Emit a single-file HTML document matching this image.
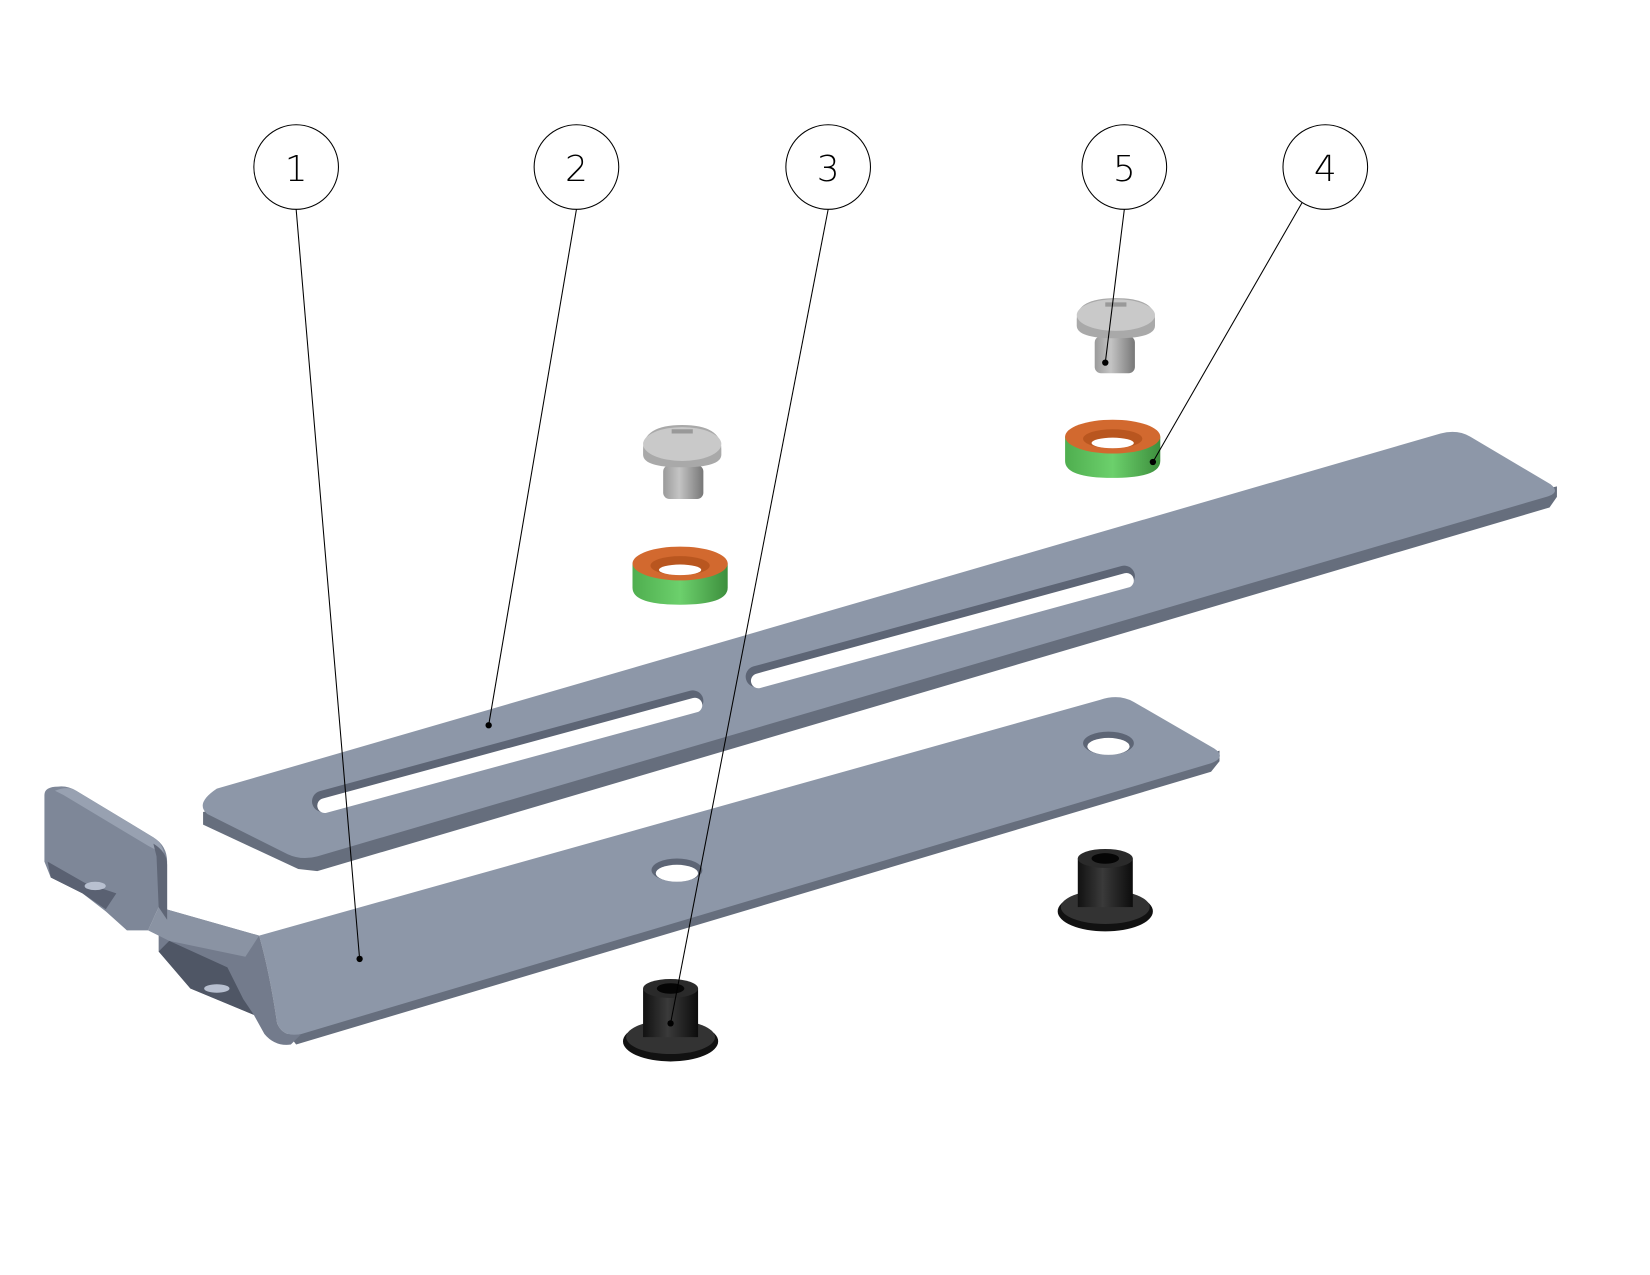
<!DOCTYPE html>
<html><head><style>html,body{margin:0;padding:0;background:#fff}svg{display:block}</style></head>
<body>
<svg width="1650" height="1275" viewBox="0 0 1560 1206" preserveAspectRatio="none" xmlns="http://www.w3.org/2000/svg">
<defs>
<linearGradient id="scr" x1="0" x2="1"><stop offset="0" stop-color="#9a9a9a"/><stop offset=".4" stop-color="#c4c4c4"/><stop offset="1" stop-color="#777"/></linearGradient>
<linearGradient id="grn" x1="0" x2="1"><stop offset="0" stop-color="#4fae4f"/><stop offset=".5" stop-color="#6cd06c"/><stop offset="1" stop-color="#3d8f3d"/></linearGradient>
<linearGradient id="blk" x1="0" x2="1"><stop offset="0" stop-color="#111"/><stop offset=".45" stop-color="#3a3a3a"/><stop offset="1" stop-color="#0c0c0c"/></linearGradient>
</defs>

<!-- Upper plate (2) -->
<path d="M192,768 L192,780 L282,822 L300,824 L1465,480 L1472,470 L1472,460 Z" fill="#666e7d"/>
<path d="M205,746 L1362,410 Q1378,406 1390,413 L1466,458 Q1476,466 1462,470 L300,810 Q285,814 272,808 L196,770 Q184,760 205,746 Z" fill="#8d97a8"/>
<!-- slots -->
<g stroke-linecap="round">
<line x1="305" y1="758" x2="655" y2="663" stroke="#5d6575" stroke-width="20"/>
<line x1="307" y1="762" x2="657" y2="667" stroke="#fff" stroke-width="14"/>
<line x1="715" y1="640" x2="1063" y2="545" stroke="#5d6575" stroke-width="20"/>
<line x1="717" y1="644" x2="1065" y2="549" stroke="#fff" stroke-width="14"/>
</g>

<!-- Lower plate (1) -->
<path d="M270,975 L280,988 L1145,730 L1153,720 L1153,710 L285,975 Z" fill="#666e7d"/>
<path d="M245,885 L1040,662 Q1058,656 1072,664 L1148,708 Q1160,716 1145,722 L285,978 Q268,982 262,968 Q255,920 245,885 Z" fill="#8d97a8"/>
<!-- bend and tab -->
<path d="M150,858 L245,885 Q255,920 262,968 Q268,982 285,978 L275,988 Q260,990 250,978 L240,960 L180,935 L150,900 Z" fill="#737b8c"/>
<path d="M140,880 L150,858 L245,885 L232,905 L160,890 Z" fill="#8a93a3"/>
<path d="M150,900 L180,935 L240,960 L230,945 L215,915 L160,890 Z" fill="#4f5665"/>
<path d="M42,752 Q42,744 55,744 Q64,743 72,748 L145,792 Q158,800 158,815 L158,870 L150,858 L140,880 L120,880 L100,862 L78,845 L48,830 L42,815 Z" fill="#7e8798"/>
<path d="M52,748 Q64,743 72,748 L145,792 Q154,798 155,808 L140,800 L60,752 Z" fill="#98a1b1"/>
<path d="M145,798 Q158,806 158,818 L158,870 L150,858 L148,810 Z" fill="#5f6676"/>
<path d="M45,815 L48,830 L78,845 L100,860 L110,845 L80,835 Z" fill="#5a6172"/>
<ellipse cx="90" cy="838" rx="10" ry="4" fill="#b8c0d0"/>
<ellipse cx="205" cy="935" rx="12" ry="4" fill="#b8c0d0"/>
<!-- holes -->
<ellipse cx="1048" cy="703" rx="24" ry="11" fill="#5d6575"/><ellipse cx="1048" cy="706" rx="20" ry="8" fill="#fff"/>
<ellipse cx="640" cy="823" rx="24" ry="11" fill="#5d6575"/><ellipse cx="640" cy="826" rx="20" ry="8" fill="#fff"/>

<!-- Screws -->
<g>
<rect x="627" y="440" width="38" height="32" rx="6" fill="url(#scr)"/>
<path d="M608,425 Q608,402 645,402 Q682,402 682,425 L682,430 Q682,442 645,442 Q608,442 608,430 Z" fill="#a9a9a9"/>
<ellipse cx="645" cy="420" rx="37" ry="16" fill="#c9c9c9"/>
<path d="M635,408 L655,408" stroke="#999" stroke-width="4"/>
</g>
<g>
<rect x="1035" y="318" width="38" height="35" rx="6" fill="url(#scr)"/>
<path d="M1018,302 Q1018,282 1055,282 Q1092,282 1092,302 L1092,308 Q1092,320 1055,320 Q1018,320 1018,308 Z" fill="#a9a9a9"/>
<ellipse cx="1055" cy="298" rx="37" ry="15" fill="#c9c9c9"/>
<path d="M1045,288 L1065,288" stroke="#999" stroke-width="4"/>
</g>

<!-- Washers -->
<g>
<path d="M598,533 L598,556 Q598,572 643,572 Q688,572 688,556 L688,533 Z" fill="url(#grn)"/>
<ellipse cx="643" cy="533" rx="45" ry="16" fill="#d2692f"/>
<ellipse cx="643" cy="535" rx="28" ry="9" fill="#b9561f"/>
<ellipse cx="643" cy="539" rx="20" ry="5" fill="#fff"/>
</g>
<g>
<path d="M1007,413 L1007,436 Q1007,452 1052,452 Q1097,452 1097,436 L1097,413 Z" fill="url(#grn)"/>
<ellipse cx="1052" cy="413" rx="45" ry="16" fill="#d2692f"/>
<ellipse cx="1052" cy="415" rx="28" ry="9" fill="#b9561f"/>
<ellipse cx="1052" cy="419" rx="20" ry="5" fill="#fff"/>
</g>

<!-- Black bushings -->
<g>
<ellipse cx="1045" cy="862" rx="45" ry="19" fill="#111"/>
<ellipse cx="1045" cy="858" rx="42" ry="16" fill="#333"/>
<rect x="1019" y="812" width="52" height="46" fill="url(#blk)"/>
<ellipse cx="1045" cy="812" rx="26" ry="9" fill="#2a2a2a"/>
<ellipse cx="1045" cy="812" rx="13" ry="5" fill="#050505"/>
</g>
<g>
<ellipse cx="634" cy="985" rx="45" ry="19" fill="#111"/>
<ellipse cx="634" cy="981" rx="42" ry="16" fill="#333"/>
<rect x="608" y="935" width="52" height="46" fill="url(#blk)"/>
<ellipse cx="634" cy="935" rx="26" ry="9" fill="#2a2a2a"/>
<ellipse cx="634" cy="935" rx="13" ry="5" fill="#050505"/>
</g>

<!-- Leaders -->
<g stroke="#000" stroke-width="1" fill="none">
<line x1="280" y1="198" x2="340" y2="907"/>
<line x1="545" y1="198" x2="462" y2="686"/>
<line x1="783" y1="198" x2="634" y2="968"/>
<line x1="1063" y1="198" x2="1045" y2="343"/>
<line x1="1232" y1="190" x2="1090" y2="437"/>
</g>
<g fill="#000">
<circle cx="340" cy="907" r="3"/><circle cx="462" cy="686" r="3"/><circle cx="634" cy="968" r="3"/><circle cx="1045" cy="343" r="3"/><circle cx="1090" cy="437" r="3"/>
</g>
<!-- Balloons -->
<g stroke="#000" stroke-width="1" fill="#fff">
<circle cx="280" cy="158" r="40"/><circle cx="545" cy="158" r="40"/><circle cx="783" cy="158" r="40"/><circle cx="1063" cy="158" r="40"/><circle cx="1253" cy="158" r="40"/>
</g>
<g font-family="DejaVu Sans, sans-serif" font-weight="200" font-size="34" text-anchor="middle" fill="#000">
<text x="280" y="171">1</text><text x="545" y="171">2</text><text x="783" y="171">3</text><text x="1063" y="171">5</text><text x="1253" y="171">4</text>
</g>
</svg>
</body></html>
